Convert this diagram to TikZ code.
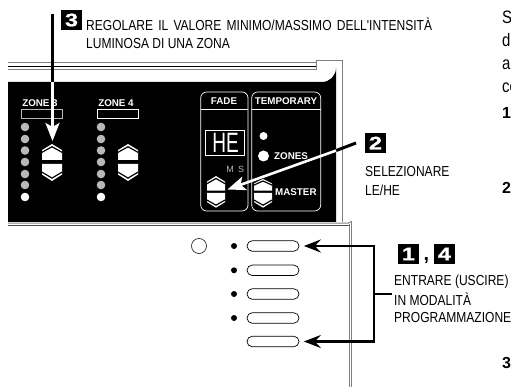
\documentclass[tikz,border=0pt]{standalone}
\usepackage{fontspec}
\setmainfont{Liberation Sans}
\newfontfamily\narrowf[FakeStretch=0.83]{Liberation Sans}
\newfontfamily\slimf[FakeStretch=0.68]{Liberation Sans}
\newfontfamily\widef[FakeStretch=1.3,FakeBold=1.2]{Liberation Sans}
\usetikzlibrary{arrows.meta,shapes.misc}
\definecolor{edge}{gray}{0.5}
\definecolor{led}{gray}{0.72}
\tikzset{
  lab/.style={font=\narrowf\fontsize{14.5}{16}\selectfont,anchor=west,inner sep=0pt,text=black},
  panlab/.style={font=\bfseries\fontsize{9.8}{10}\selectfont,text=white,inner sep=0pt},
  badge/.style={fill=black,text=white,minimum width=21pt,minimum height=20pt,inner sep=0pt,font=\widef\bfseries\fontsize{18}{18}\selectfont},
  pill/.style={draw=black,line width=0.7pt,rounded rectangle,minimum width=52pt,minimum height=10.5pt,inner sep=0pt,fill=white},
  dotk/.style={circle,fill=black,minimum size=6pt,inner sep=0pt},
  thick arrow/.style={line width=2.6pt,-{Stealth[length=17pt,width=13pt,inset=6pt]}},
  bold num/.style={font=\bfseries\fontsize{16}{18}\selectfont,anchor=west,inner sep=0pt},
  body/.style={font=\narrowf\fontsize{18}{20}\selectfont,anchor=west,inner sep=0pt,text=black},
  framing/.style={draw=edge,line width=1pt}
}
\newcommand\btn[4]{%
  \fill[white] (#1-#2,{#3+0.38*(#4-#3)}) -- (#1,#3) -- (#1+#2,{#3+0.38*(#4-#3)}) -- (#1+#2,#4) -- (#1-#2,#4) -- cycle;
  \draw[black,line width=1.2pt] (#1-#2,{#3+0.52*(#4-#3)}) -- (#1,{#3+0.17*(#4-#3)}) -- (#1+#2,{#3+0.52*(#4-#3)});
}
\begin{document}
\begin{tikzpicture}[x=1pt,y=-1pt]
\useasboundingbox (0,0) rectangle (511,387);
% top strips and frame
\draw[edge,line width=1pt] (8,63) -- (316,63);
\draw[black,line width=1pt] (8,66.3) -- (316,66.3);
\draw[edge,line width=1.6pt] (8,69.7) -- (316,69.7);
\draw[framing] (316,70) -- (316,60.5) -- (342.5,60.5) -- (342.5,222);
% black panel
\fill[black] (8,82) -- (322,82) [rounded corners=0pt] arc[start angle=90,end angle=0,radius=14] -- (336,222) -- (8,222) -- cycle;
% lower housing edge
\draw[edge,line width=1pt] (8,223.2) -- (348,223.2) -- (351.5,221.5);
\draw[black!70,line width=0.6pt] (8,225.5) -- (349,225.5);
\draw[edge,line width=1pt] (349,224) -- (349,387);
\draw[edge,line width=1pt] (351.8,221.5) -- (351.8,387);
% zones
\node[panlab] (z3) at (40,103) {ZONE 3};
\node[panlab] (z4) at (116,103) {ZONE 4};
\draw[led,line width=0.8pt] (21.5,109.5) rectangle (62,118);
\draw[white,line width=0.8pt] (97.5,109.5) rectangle (138.5,118);
\foreach \lx in {25,101}{
  \foreach \ly in {127,139,150.5,162,174,185}{
    \fill[led] (\lx,\ly) circle[radius=4.3];
  }
  \fill[white] (\lx,197) circle[radius=4.3];
}
\btn{52}{10}{144}{160}
\btn{52}{10}{181}{164}
\btn{128}{10}{144}{160}
\btn{128}{10}{181}{164}
% fade / temporary
\draw[white,line width=0.7pt,rounded corners=6pt] (200.7,109) -- (200.7,92) -- (248,92) -- (248,211) -- (200.7,211) -- cycle;
\draw[white,line width=0.7pt] (200.7,109) -- (248,109);
\draw[white,line width=0.7pt,rounded corners=6pt] (251.7,109) -- (251.7,92) -- (320.7,92) -- (320.7,211) -- (251.7,211) -- cycle;
\draw[white,line width=0.7pt] (251.7,109) -- (320.7,109);
\node[panlab] (fade) at (224,101) {FADE};
\node[panlab] (temp) at (286,101) {TEMPORARY};
\draw[white,line width=0.7pt] (205.7,130) rectangle (244,155.7);
\node[font=\slimf\fontsize{28}{28}\selectfont,text=white,inner sep=0pt] (he) at (225.5,142.5) {HE};
\node[font=\fontsize{9}{9}\selectfont,text=led,inner sep=0pt] (m) at (230,169) {M};
\node[font=\fontsize{9}{9}\selectfont,text=led,inner sep=0pt] (s) at (241,169) {S};
\fill[white] (263.5,136) circle[radius=4];
\fill[white] (263.5,156) circle[radius=5.5];
\node[panlab,anchor=west] (zones) at (274,156) {ZONES};
\node[panlab,anchor=west] (master) at (275,192) {MASTER};
\btn{216}{9}{176}{190.7}
\btn{216}{9}{207.7}{193}
\btn{263}{9}{179}{190.7}
\btn{263}{9}{207.7}{193}
% lower panel
\draw[black!80,line width=0.7pt] (199,246) circle[radius=7.5];
\node[dotk] (d1) at (234,246) {};
\node[dotk] (d2) at (234,270.3) {};
\node[dotk] (d3) at (234,294) {};
\node[dotk] (d4) at (234,318) {};
\node[pill] (p1) at (273,246) {};
\node[pill] (p2) at (273,270.3) {};
\node[pill] (p3) at (273,294) {};
\node[pill] (p4) at (273,318) {};
\node[pill] (p5) at (273,341.5) {};
% labels
\node[badge] (b3) at (71.5,20) {3};
\node[lab] (t3a) at (86,24) {\spaceskip=5.2pt REGOLARE IL VALORE MINIMO/MASSIMO DELL'INTENSITÀ};
\node[lab] (t3b) at (86,43.5) {LUMINOSA DI UNA ZONA};
\node[badge] (b2) at (375.5,143) {2};
\node[lab] (t2a) at (365,172) {SELEZIONARE};
\node[lab] (t2b) at (365,190.5) {LE/HE};
\node[badge] (b1) at (408.5,254) {1};
\node[font=\bfseries\fontsize{20}{20}\selectfont,inner sep=0pt] (comma) at (426.5,261) {,};
\node[badge] (b4) at (444.5,254) {4};
\node[lab] (t1a) at (394,281.5) {ENTRARE (USCIRE)};
\node[lab] (t1b) at (394,299.5) {IN MODALITÀ};
\node[lab] (t1c) at (394,318) {PROGRAMMAZIONE};
% right column
\node[body] (ra) at (502,17) {S};
\node[body] (rb) at (502,40) {d};
\node[body] (rc) at (502,65) {a};
\node[body] (rd) at (502,88) {co};
\node[bold num] (n1) at (502,113) {1};
\node[bold num] (n2) at (502,188) {2};
\node[bold num] (n3) at (502,363) {3};
% arrows
\coordinate (a3s) at (52.5,14);
\coordinate (a3m) at (52.5,82);
\coordinate (a3t) at (52.5,141);
\draw[black,line width=3.2pt] (a3s) -- (a3m);
\draw[white,line width=3pt,-{Stealth[length=18pt,width=14pt,inset=4pt]}] (a3m) -- (a3t);
\coordinate (a2s) at (356,143);
\coordinate (a2m) at (336,150.6);
\coordinate (a2t) at (227.5,189.5);
\draw[black,line width=3pt] (a2s) -- (a2m);
\draw[white,line width=2.6pt,-{Stealth[length=18pt,width=14pt,inset=4pt]}] (a2m) -- (a2t);
\coordinate (br1) at (374,246);
\coordinate (br2) at (374,341.5);
\coordinate (brm) at (374,294);
\coordinate (brs) at (392,294);
\draw[black,thick arrow] (br1) -- ([xshift=4.5pt]p1.east);
\draw[black,thick arrow] (br2) -- ([xshift=4.5pt]p5.east);
\draw[black,line width=2.6pt,line cap=rect] (br1) -- (br2);
\draw[black,line width=2.6pt] (brm) -- (brs);
\end{tikzpicture}
\end{document}
